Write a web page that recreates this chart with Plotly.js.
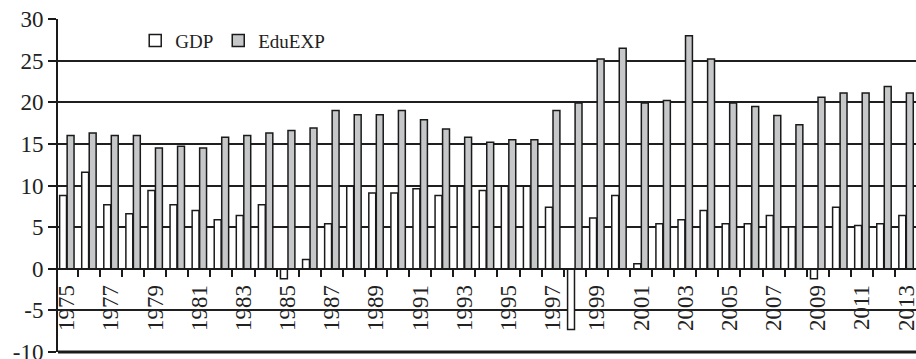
<!DOCTYPE html>
<html>
<head>
<meta charset="utf-8">
<script src="https://cdn.plot.ly/plotly-3.0.1.min.js"></script>
<style>html,body{margin:0;padding:0;background:#fff;}#chart{width:916px;height:359px;}</style>
</head>
<body>
<div id="chart"></div>
<script>
const years = ["1975","1976","1977","1978","1979","1980","1981","1982","1983","1984",
  "1985","1986","1987","1988","1989","1990","1991","1992","1993","1994",
  "1995","1996","1997","1998","1999","2000","2001","2002","2003","2004",
  "2005","2006","2007","2008","2009","2010","2011","2012","2013"];
const gdp = [8.8, 11.6, 7.7, 6.6, 9.4, 7.7, 7.0, 5.9, 6.4, 7.7,
  -1.2, 1.1, 5.4, 9.9, 9.1, 9.1, 9.6, 8.8, 9.9, 9.4,
  9.9, 9.9, 7.4, -7.3, 6.1, 8.8, 0.6, 5.4, 5.9, 7.0,
  5.4, 5.4, 6.4, 5.0, -1.2, 7.4, 5.2, 5.4, 6.4];
const eduExp = [16.0, 16.3, 16.0, 16.0, 14.5, 14.7, 14.5, 15.8, 16.0, 16.3,
  16.6, 16.9, 19.0, 18.5, 18.5, 19.0, 17.9, 16.8, 15.8, 15.2,
  15.5, 15.5, 19.0, 19.9, 25.2, 26.5, 19.9, 20.2, 28.0, 25.2,
  19.9, 19.5, 18.4, 17.3, 20.6, 21.1, 21.1, 21.9, 21.1];
const yTickVals = [-10, -5, 0, 5, 10, 15, 20, 25, 30];
const yTickText = ["-10", "-5", "0", "5", "10", "15", "20", "25", "30"];
const xTickText = years.map((y, i) => (i % 2 === 0 ? y : ""));

const font = "Liberation Serif";
const traces = [
  {type: "bar", name: "GDP", x: years, y: gdp,
   marker: {color: "#ffffff", line: {color: "#1a1a1a", width: 1.5}}},
  {type: "bar", name: "EduEXP", x: years, y: eduExp,
   marker: {color: "#c6c7c9", line: {color: "#1a1a1a", width: 1.5}}}
];
const layout = {
  width: 916, height: 359,
  margin: {l: 58, r: 0, t: 19, b: 7, pad: 0},
  paper_bgcolor: "#ffffff", plot_bgcolor: "#ffffff",
  font: {family: font, size: 22, color: "#222"},
  barmode: "group", bargap: 0.32, bargroupgap: 0.08,
  showlegend: true,
  legend: {orientation: "h", x: 0.09, y: 0.935, xanchor: "left", yanchor: "middle",
    font: {family: font, size: 19, color: "#222"}, bgcolor: "rgba(0,0,0,0)",
    itemwidth: 30, tracegroupgap: 0},
  xaxis: {type: "category", anchor: "free", position: 0.25,
    range: [-0.4, 38.45], autorange: false, fixedrange: true,
    tickmode: "array", tickvals: years, ticktext: xTickText,
    tickson: "boundaries", ticks: "outside", ticklen: 7, tickwidth: 2, tickcolor: "#1a1a1a",
    tickangle: -90, ticklabelstandoff: 6, tickfont: {family: font, size: 23, color: "#222"},
    showline: true, linecolor: "#1a1a1a", linewidth: 2,
    showgrid: false, zeroline: false, automargin: false},
  yaxis: {range: [-10, 30], autorange: false, fixedrange: true,
    tickmode: "array", tickvals: yTickVals, ticktext: yTickText,
    ticks: "outside", ticklen: 8, tickwidth: 2, tickcolor: "#1a1a1a",
    ticklabeloverflow: "allow",
    tickfont: {family: font, size: 23, color: "#222"},
    showgrid: true, gridcolor: "#1f1f1f", gridwidth: 2,
    zeroline: true, zerolinecolor: "#1a1a1a", zerolinewidth: 2,
    showline: true, linecolor: "#1a1a1a", linewidth: 2, automargin: false},
  shapes: [{type: "line", xref: "paper", yref: "paper", x0: 0, x1: 1, y0: 0, y1: 0,
    line: {color: "#1a1a1a", width: 3}}]
};
Plotly.newPlot("chart", traces, layout, {staticPlot: true, displayModeBar: false});
</script>
</body>
</html>
